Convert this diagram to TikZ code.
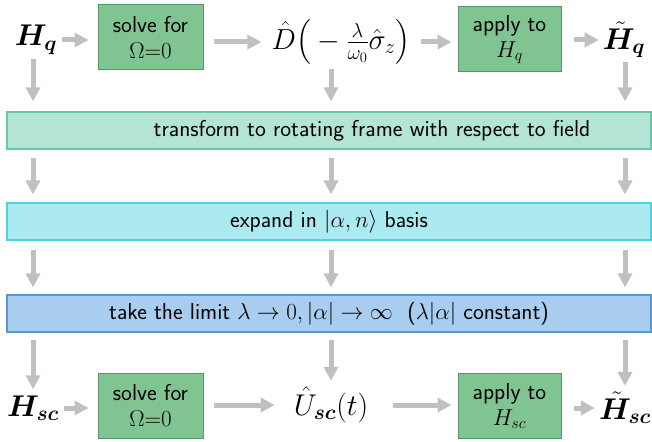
\RequirePackage{fix-cm}
\documentclass[tikz,border=0pt]{standalone}
\usepackage{amsmath,bm}
\usepackage{fontspec}
\usetikzlibrary{arrows.meta}

\definecolor{greenfill}{RGB}{128,196,146}
\definecolor{greenline}{RGB}{84,150,100}
\definecolor{tealfill}{RGB}{180,228,214}
\definecolor{tealline}{RGB}{102,200,170}
\definecolor{cyanfill}{RGB}{170,234,240}
\definecolor{cyanline}{RGB}{80,210,222}
\definecolor{bluefill}{RGB}{168,205,238}
\definecolor{blueline}{RGB}{90,150,210}
\definecolor{arrowgray}{RGB}{192,192,192}

\begin{document}
\begin{tikzpicture}[x=1pt,y=-1pt,
  flow/.style={draw=arrowgray, line width=5pt, -{Triangle[length=14pt,width=14pt]}},
  stepbox/.style={draw=greenline, fill=greenfill, line width=1pt,
    minimum width=105pt, minimum height=65pt, inner sep=0pt, align=center,
    font=\sffamily\fontsize{23}{26}\selectfont},
  band/.style={line width=1.2pt, minimum width=644pt, minimum height=37pt,
    inner sep=0pt, font=\sffamily\fontsize{23}{26}\selectfont},
  term/.style={inner sep=0pt, font=\fontsize{30}{36}\selectfont}]

\useasboundingbox (0,0) rectangle (652,441);

% top row
\node[term] (Hq) at (36,40) {$\bm{H_q}$};
\node[stepbox] (solve1) at (150.5,37.5) {solve for\\$\Omega{=}0$};
\node[term, font=\fontsize{29}{35}\selectfont] (D) at (341,42)
  {$\hat{D}\big(-\tfrac{\lambda}{\omega_0}\hat{\sigma}_z\big)$};
\node[stepbox, minimum width=103pt] (apply1) at (509.5,39.5) {apply to\\$H_q$};
\node[term] (Htq) at (624,40) {$\tilde{\bm{H}}_{\bm{q}}$};

% transformation bands
\node[band, draw=tealline, fill=tealfill] (band1) at (329,130.5) {};
\node[font=\sffamily\fontsize{23}{26}\selectfont, inner sep=0pt] (band1text) at (372,130.5)
  {transform to rotating frame with respect to field};
\node[band, draw=cyanline, fill=cyanfill] (band2) at (329,221.5)
  {expand in $|\alpha,n\rangle$ basis};
\node[band, draw=blueline, fill=bluefill] (band3) at (329,313.5)
  {take the limit $\lambda\to 0, |\alpha|\to\infty$~~($\lambda|\alpha|$ constant)};

% bottom row
\node[term] (Hsc) at (33,408) {$\bm{H_{sc}}$};
\node[stepbox] (solve2) at (150.5,405.5) {solve for\\$\Omega{=}0$};
\node[term] (U) at (331,405) {$\hat{U}_{\bm{sc}}(t)$};
\node[stepbox, minimum width=103pt] (apply2) at (509.5,406) {apply to\\$H_{sc}$};
\node[term] (Htsc) at (625,408) {$\tilde{\bm{H}}_{\bm{sc}}$};

% horizontal connectors
\draw[flow, shorten <=5pt, shorten >=9pt] (Hq.east) -- (Hq.east -| solve1.west);
\draw[flow, shorten <=10pt, shorten >=10pt] (solve1.east |- D.west) -- (D.west);
\draw[flow, shorten <=10pt, shorten >=6pt] (D.east) -- (D.east -| apply1.west);
\draw[flow, shorten <=12pt, shorten >=4pt] (apply1.east |- Htq.west) -- (Htq.west);

\draw[flow, shorten <=5pt, shorten >=9pt] (Hsc.east) -- (Hsc.east -| solve2.west);
\draw[flow, shorten <=10pt, shorten >=19pt] (solve2.east |- U.west) -- (U.west);
\draw[flow, shorten <=25pt, shorten >=6pt] (U.east) -- (U.east -| apply2.west);
\draw[flow, shorten <=12pt, shorten >=4pt] (apply2.east |- Htsc.west) -- (Htsc.west);

% vertical connectors, one column under each chain of terms
\foreach \top/\bot in {Hq/Hsc, D/U, Htq/Htsc}{
  \draw[flow, shorten <=4pt, shorten >=10pt] (\top.south -| \bot) -- (band1.north -| \bot);
  \draw[flow, shorten <=8pt, shorten >=8pt] (band1.south -| \bot) -- (band2.north -| \bot);
  \draw[flow, shorten <=9pt, shorten >=7pt] (band2.south -| \bot) -- (band3.north -| \bot);
  \draw[flow, shorten <=7pt, shorten >=6pt] (band3.south -| \bot) -- (\bot.north);
}
\end{tikzpicture}
\end{document}
